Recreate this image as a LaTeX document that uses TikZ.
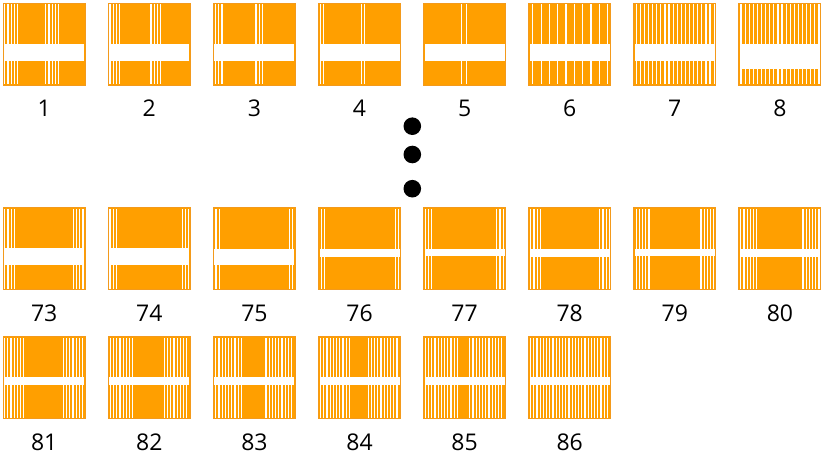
\documentclass[tikz,border=0pt]{standalone}
\usepackage{fontspec}
\setmainfont{Open Sans}
\definecolor{tilefill}{HTML}{FF9F00}
\definecolor{tileedge}{HTML}{F39A1C}
\tikzset{
  tilebox/.style={fill=tilefill,draw=tileedge,line width=1pt},
  numlabel/.style={font=\fontsize{23}{23}\selectfont,text=black,inner sep=0pt,anchor=center},
  dotmark/.style={fill=black,draw=none}
}
\newcommand\drawtile[6]{% #1 name, #2 x0, #3 y0, #4 band top, #5 band height, #6 line list
  \begin{scope}[shift={(#2,#3)}]
    \fill[tilefill] (0,0) rectangle (83,83);
    \foreach \lx in {#6} {\fill[white] (\lx,1.5) rectangle ++(1.2,80);}
    \fill[white] (1.5,#4) rectangle (81.5,#4+#5);
    \draw[draw=tileedge,line width=1pt] (0.5,0.5) rectangle (82.5,82.5);
    \coordinate (#1) at (41.5,41.5);
  \end{scope}}
\begin{document}
\begin{tikzpicture}[x=1pt,y=-1pt]
\useasboundingbox (0,0) rectangle (827,455);
\fill[white] (0,0) rectangle (827,455);
% row 1
\def\ya{2.7}
\drawtile{t1}{2.7}{\ya}{41.6}{16.7}{1.5,4.7,...,16,42.5,45.7,...,57}
\drawtile{t2}{107.8}{\ya}{41.6}{16.7}{1.5,4.7,...,13,42.5,45.7,...,54}
\drawtile{t3}{212.9}{\ya}{41.6}{16.7}{2,5.2,8.4,42.5,45.7,48.9}
\drawtile{t4}{318.0}{\ya}{41.6}{16.7}{1.5,4.7,42.5,45.7}
\drawtile{t5}{423.1}{\ya}{41.6}{16.7}{38,42.5}
\drawtile{t6}{528.2}{\ya}{41.6}{16.7}{4,12.3,...,80}
\drawtile{t7}{633.3}{\ya}{41.6}{16.7}{2.3,6.4,...,81}
\drawtile{t8}{738.4}{\ya}{41.6}{25}{2,6.1,...,81}
% row 2
\def\yb{207.3}
\drawtile{t73}{2.7}{\yb}{41}{16.7}{1.5,4.7,...,12,70,73.2,...,80}
\drawtile{t74}{107.8}{\yb}{41}{16.7}{1.5,4.7,7.9,74,77.2,80.4}
\drawtile{t75}{212.9}{\yb}{42}{15.7}{2.5,5.7,76,79.2}
\drawtile{t76}{318.0}{\yb}{42}{7.4}{2.5,5.7,77,80.2}
\drawtile{t77}{423.1}{\yb}{42}{7}{1.7,4.9,8.1,73,76.2,79.4}
\drawtile{t78}{528.2}{\yb}{42}{7.4}{2,5.2,...,12,71,74.2,...,81}
\drawtile{t79}{633.3}{\yb}{42}{7}{2.3,5.5,...,16,67,70.2,...,80.5}
\drawtile{t80}{738.4}{\yb}{42}{7.4}{1.7,4.9,...,18.5,64,67.2,...,80.5}
% row 3
\def\yc{336}
\drawtile{t81}{2.7}{\yc}{41.3}{8}{1.3,4.5,...,22,60,63.2,...,80.5}
\drawtile{t82}{107.8}{\yc}{41.3}{8}{2,5.2,...,26,56,59.2,...,81}
\drawtile{t83}{212.9}{\yc}{41.3}{8}{2.3,5.5,...,29,52.5,55.7,...,81}
\drawtile{t84}{318.0}{\yc}{41.3}{8}{2,5.2,...,33,49.5,52.7,...,81}
\drawtile{t85}{423.1}{\yc}{41.3}{8}{1.7,4.9,...,36,46,49.2,...,81}
\drawtile{t86}{528.2}{\yc}{41.3}{8}{1.7,4.9,...,81}
% labels
\foreach \n/\x in {1/44.2,2/149.3,3/254.4,4/359.5,5/464.6,6/569.7,7/674.8,8/779.9}
  \node[numlabel] (l\n) at (\x,108) {\n};
\foreach \n/\x in {73/44.2,74/149.3,75/254.4,76/359.5,77/464.6,78/569.7,79/674.8,80/779.9}
  \node[numlabel] (l\n) at (\x,313) {\n};
\foreach \n/\x in {81/44.2,82/149.3,83/254.4,84/359.5,85/464.6,86/569.7}
  \node[numlabel] (l\n) at (\x,442.5) {\n};
% dots
\fill[dotmark] (412.3,126.2) circle (8.8);
\fill[dotmark] (412.3,154.5) circle (8.8);
\fill[dotmark] (412.3,188.7) circle (8.8);
\end{tikzpicture}
\end{document}
